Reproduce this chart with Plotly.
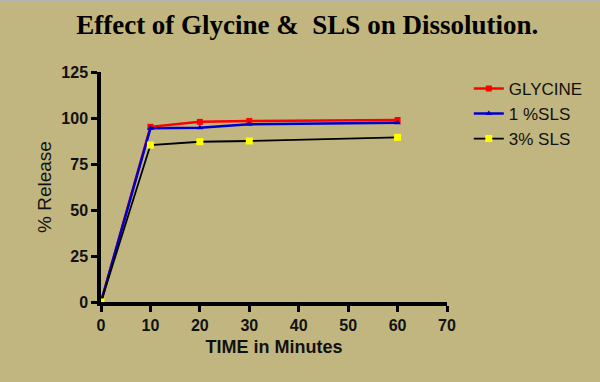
import plotly.graph_objects as go

time_min = [0, 10, 20, 30, 60]
glycine = [0, 95.2, 97.9, 98.4, 98.9]
sls_1 = [0, 94.4, 94.7, 96.6, 97.4]
sls_3 = [0, 85.3, 87.1, 87.5, 89.5]

x_ticks = [0, 10, 20, 30, 40, 50, 60, 70]
y_ticks = [0, 25, 50, 75, 100, 125]

bg = "#C1B67F"

fig = go.Figure()
fig.add_trace(go.Scatter(x=time_min, y=glycine, name="GLYCINE", mode="lines+markers",
                         line=dict(color="#FF0000", width=2.5),
                         marker=dict(symbol="square", size=6, color="#FF0000")))
fig.add_trace(go.Scatter(x=time_min, y=sls_1, name="1 %SLS", mode="lines+markers",
                         line=dict(color="#0000CC", width=2.5),
                         marker=dict(symbol="triangle-up", size=6, color="#0000CC")))
fig.add_trace(go.Scatter(x=time_min, y=sls_3, name="3% SLS", mode="lines+markers",
                         line=dict(color="#000000", width=1.8),
                         marker=dict(symbol="square", size=7, color="#FFFF00")))

tick_font = dict(family="Liberation Sans, Arial", size=16, color="#111111", weight="bold")
fig.update_layout(
    width=600, height=382,
    paper_bgcolor=bg, plot_bgcolor=bg,
    margin=dict(l=101, r=153, t=72, b=80),
    title=dict(text="<b>Effect of Glycine &amp;  SLS on Dissolution.</b>",
               font=dict(family="Liberation Serif, Times New Roman", size=27, color="#000000"),
               x=0.512, xanchor="center", y=0.935, yanchor="middle"),
    showlegend=True,
    legend=dict(x=1.063, y=1.005, xanchor="left", yanchor="top",
                bgcolor="rgba(0,0,0,0)",
                font=dict(family="Liberation Sans, Arial", size=17, color="#111111"),
                tracegroupgap=6),
    xaxis=dict(range=[0, 70], tickvals=x_ticks, showgrid=False, zeroline=False,
               showline=True, linecolor="#000000", linewidth=3.5,
               ticks="outside", ticklen=6, tickwidth=2.5, tickcolor="#000000",
               tickfont=tick_font,
               title=dict(text="<b>TIME in Minutes</b>",
                          font=dict(family="Liberation Sans, Arial", size=18, color="#111111"),
                          standoff=8)),
    yaxis=dict(range=[0, 125], tickvals=y_ticks, showgrid=False, zeroline=False,
               showline=True, linecolor="#000000", linewidth=3.5,
               ticks="outside", ticklen=6, tickwidth=2.5, tickcolor="#000000",
               tickfont=tick_font,
               title=dict(text="% Release",
                          font=dict(family="Liberation Sans, Arial", size=19, color="#111111"),
                          standoff=6)),
    shapes=[dict(type="line", xref="paper", yref="paper", x0=-0.3, x1=1.5, y0=1.309, y1=1.309,
                 line=dict(color="#B4B4B4", width=2))],
)

fig.write_html("out.html", config={"displayModeBar": False},
               post_script="document.body.style.margin='0';document.body.style.overflow='hidden';")
